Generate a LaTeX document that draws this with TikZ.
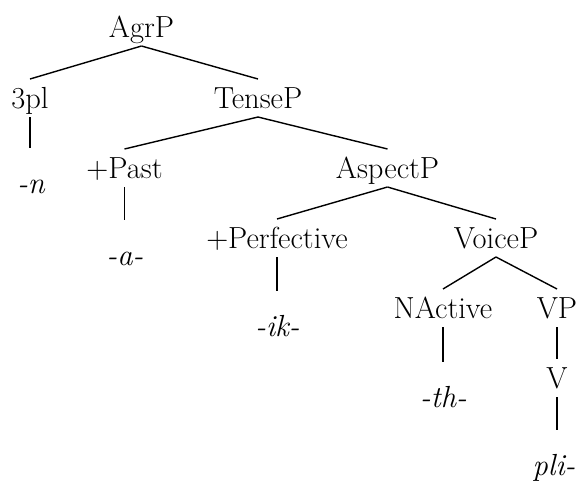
\documentclass[tikz,border=0pt]{standalone}
\usepackage{fontspec}
\begin{document}
\begin{tikzpicture}[x=1pt,y=-1pt,
  every node/.style={inner sep=0pt,outer sep=0pt,anchor=base,font=\fontsize{30.5}{36}\selectfont},
  cat/.style={text height=29pt,text depth=9pt},
  leaf/.style={text height=45pt,text depth=9pt,font=\fontsize{30.5}{36}\selectfont\itshape},
  branch/.style={line width=1.4pt}]
\useasboundingbox (0,0) rectangle (579,480);
\node[cat] (agrp) at (141.5,37) {AgrP};
\node[cat] (pl) at (30,108) {3pl};
\node[cat] (tensep) at (258,108) {TenseP};
\node[leaf] (n) at (31,193) {-n};
\node[cat] (past) at (124.5,178) {+Past};
\node[cat] (aspectp) at (387.5,178) {AspectP};
\node[leaf] (a) at (125,265) {-a-};
\node[cat] (perf) at (277,248) {+Perfective};
\node[cat] (voicep) at (496,248) {VoiceP};
\node[leaf] (ik) at (277.5,336) {-ik-};
\node[cat] (nact) at (443,318) {NActive};
\node[cat] (vp) at (557,318) {VP};
\node[leaf] (th) at (443.5,407) {-th-};
\node[cat] (v) at (557,388) {V};
\node[leaf] (pli) at (554,475) {pli-};
\draw[branch] (agrp.south) -- (pl.north);
\draw[branch] (agrp.south) -- (tensep.north);
\draw[branch] (pl.south) -- (pl.south |- n.north);
\draw[branch] (tensep.south) -- (past.north);
\draw[branch] (tensep.south) -- (aspectp.north);
\draw[branch] (past.south) -- (past.south |- a.north);
\draw[branch] (aspectp.south) -- (perf.north);
\draw[branch] (aspectp.south) -- (voicep.north);
\draw[branch] (perf.south) -- (perf.south |- ik.north);
\draw[branch] (voicep.south) -- (nact.north);
\draw[branch] (voicep.south) -- (vp.north);
\draw[branch] (nact.south) -- (nact.south |- th.north);
\draw[branch] (vp.south) -- (v.north);
\draw[branch] (v.south) -- (v.south |- pli.north);
\end{tikzpicture}
\end{document}
